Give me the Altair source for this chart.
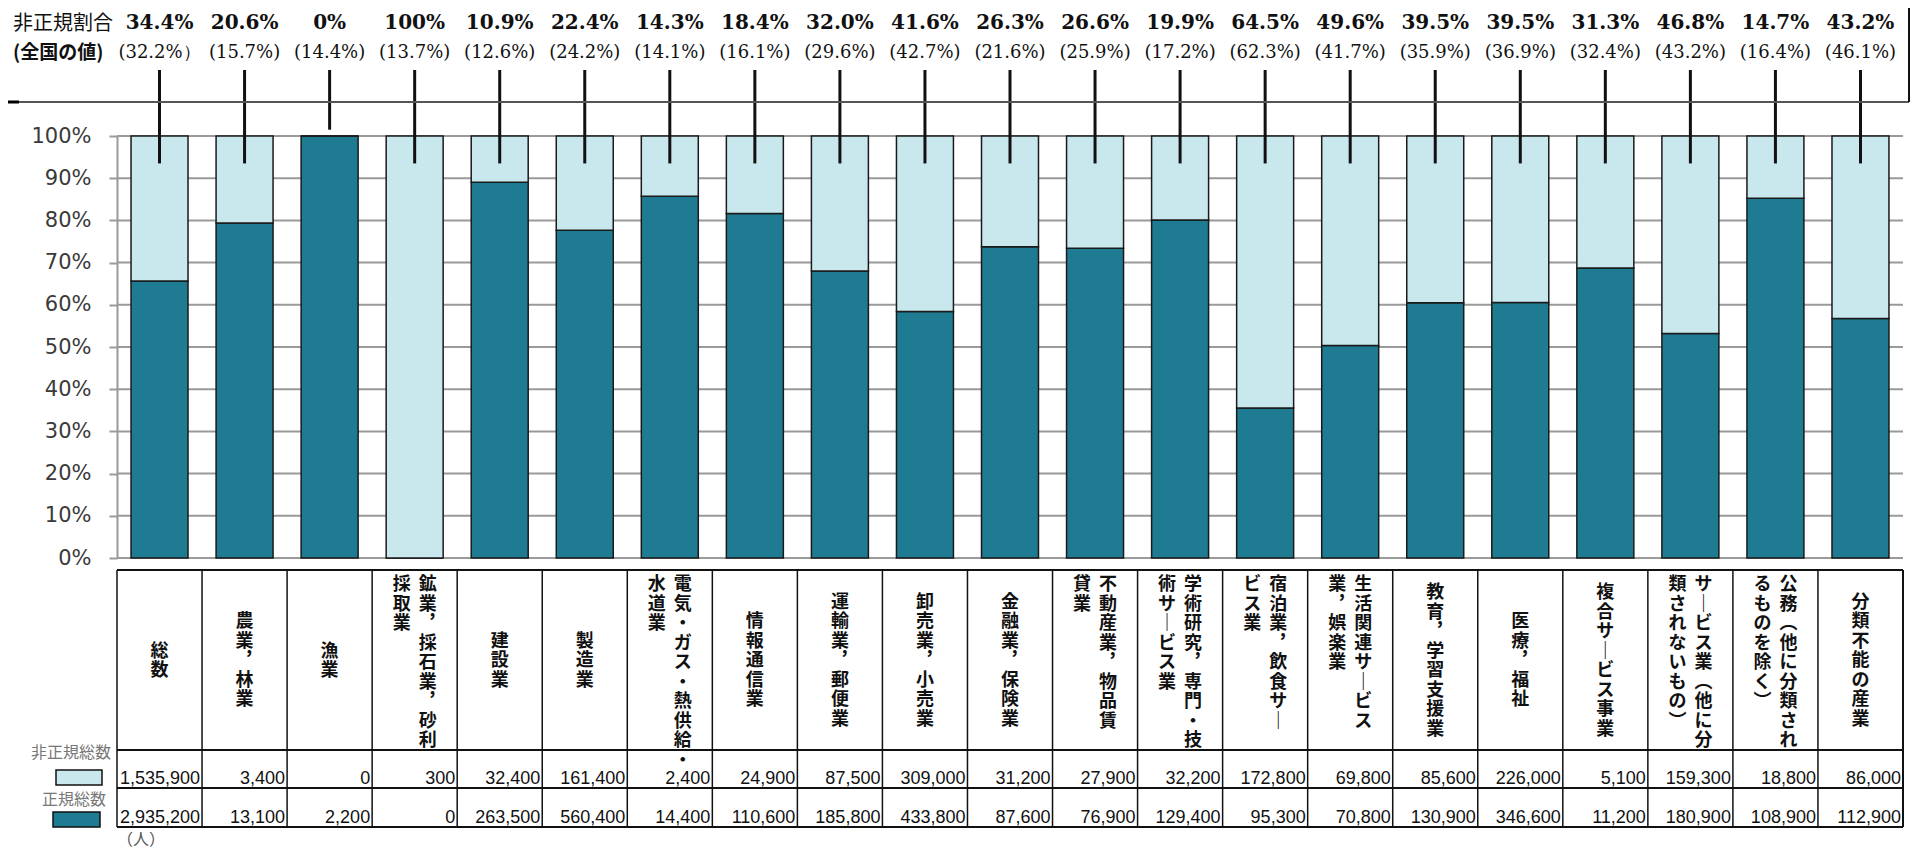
import altair as alt
import pandas as pd

# ---------------- data ----------------
categories = [
    "総数", "農業，林業", "漁業", "鉱業，採石業，砂利採取業", "建設業", "製造業",
    "電気・ガス・熱供給・水道業", "情報通信業", "運輸業，郵便業", "卸売業，小売業",
    "金融業，保険業", "不動産業，物品賃貸業", "学術研究，専門・技術サービス業",
    "宿泊業，飲食サービス業", "生活関連サービス業，娯楽業", "教育，学習支援業",
    "医療，福祉", "複合サービス事業", "サービス業（他に分類されないもの）",
    "公務（他に分類されるものを除く）", "分類不能の産業",
]
# header text split into vertical columns (right column first)
header_cols = [
    ["総数"], ["農業，林業"], ["漁業"], ["鉱業，採石業，砂利", "採取業"], ["建設業"], ["製造業"],
    ["電気・ガス・熱供給・", "水道業"], ["情報通信業"], ["運輸業，郵便業"], ["卸売業，小売業"],
    ["金融業，保険業"], ["不動産業，物品賃", "貸業"], ["学術研究，専門・技", "術サービス業"],
    ["宿泊業，飲食サー", "ビス業"], ["生活関連サービス", "業，娯楽業"], ["教育，学習支援業"],
    ["医療，福祉"], ["複合サービス事業"], ["サービス業（他に分", "類されないもの）"],
    ["公務（他に分類され", "るものを除く）"], ["分類不能の産業"],
]
nonregular = [1535900, 3400, 0, 300, 32400, 161400, 2400, 24900, 87500, 309000, 31200,
              27900, 32200, 172800, 69800, 85600, 226000, 5100, 159300, 18800, 86000]
regular = [2935200, 13100, 2200, 0, 263500, 560400, 14400, 110600, 185800, 433800, 87600,
           76900, 129400, 95300, 70800, 130900, 346600, 11200, 180900, 108900, 112900]
pct_labels = ["34.4%", "20.6%", "0%", "100%", "10.9%", "22.4%", "14.3%", "18.4%", "32.0%",
              "41.6%", "26.3%", "26.6%", "19.9%", "64.5%", "49.6%", "39.5%", "39.5%",
              "31.3%", "46.8%", "14.7%", "43.2%"]
national_labels = ["(32.2%）", "(15.7%)", "(14.4%)", "(13.7%)", "(12.6%)", "(24.2%)", "(14.1%)",
                   "(16.1%)", "(29.6%)", "(42.7%)", "(21.6%)", "(25.9%)", "(17.2%)", "(62.3%)",
                   "(41.7%)", "(35.9%)", "(36.9%)", "(32.4%)", "(43.2%)", "(16.4%)", "(46.1%)"]
y_ticks = [0, 0.1, 0.2, 0.3, 0.4, 0.5, 0.6, 0.7, 0.8, 0.9, 1.0]
series = ["正規", "非正規"]

# ---------------- style ----------------
W, H = 1786, 422
STEP = W / len(categories)
TEAL = "#1f7b91"
LIGHT = "#c9e8ee"
JP = "Noto Sans CJK JP"
LH = 19.5
GRID = "#9a9a9a"

df = pd.DataFrame({"cat": categories, "nonreg": nonregular, "reg": regular,
                   "pct": pct_labels, "nat": national_labels})
long = pd.concat([
    pd.DataFrame({"cat": categories, "type": series[0], "count": regular, "ord": 0}),
    pd.DataFrame({"cat": categories, "type": series[1], "count": nonregular, "ord": 1}),
])
ticks_df = pd.DataFrame({"t": y_ticks})

VERT = {"，": "︐", "ー": "｜", "（": "︵", "）": "︶"}
rows = []
for c, cols in zip(categories, header_cols):
    for i, s in enumerate(cols):
        rows.append({"cat": c, "col": i, "ncol": len(cols), "n": len(s),
                     "txt": "\n".join(VERT.get(ch, ch) for ch in s)})
head = pd.DataFrame(rows)
one = pd.DataFrame({"k": [0]})

X = alt.X("cat:N", scale=alt.Scale(domain=categories, paddingInner=0.33, paddingOuter=0.165),
          axis=None)
AX = alt.Axis(values=y_ticks, format=".0%", title=None, labelFont="DejaVu Sans",
              labelFontSize=21, labelColor="#3a3a3a", labelPadding=18,
              ticks=True, tickSize=8, tickColor=GRID, tickWidth=2,
              domain=True, domainColor=GRID, domainWidth=2, grid=False)
YS = alt.Scale(domain=[0, 1])

# horizontal gridlines drawn at the y tick values (behind the bars)
grid = alt.Chart(ticks_df).mark_rule(color=GRID, strokeWidth=2).encode(
    y=alt.Y("t:Q", scale=YS, axis=AX), x=alt.value(0), x2=alt.value(W))

bars = alt.Chart(long).mark_bar(stroke="#1a1a1a", strokeWidth=1.5).encode(
    x=X,
    y=alt.Y("count:Q", stack="normalize", scale=YS, axis=AX),
    color=alt.Color("type:N", scale=alt.Scale(domain=series, range=[TEAL, LIGHT]), legend=None),
    order=alt.Order("ord:Q"),
)

callouts = alt.Chart(df).transform_calculate(
    end="datum.nonreg > 0 ? 0.935 : 1.015"
).mark_rule(color="#111", strokeWidth=3).encode(
    x=X, y=alt.Y("end:Q", scale=YS, axis=AX), y2=alt.value(-66))

top1 = alt.Chart(df).mark_text(font="DejaVu Serif", fontWeight="bold", fontSize=20,
                               color="#111", baseline="middle").encode(
    x=X, y=alt.value(-113), text="pct:N")
top2 = alt.Chart(df).mark_text(font="DejaVu Serif", fontSize=18, color="#111",
                               baseline="middle").encode(
    x=X, y=alt.value(-83), text="nat:N")
lab1 = alt.Chart(one).mark_text(text="非正規割合", font=JP, fontSize=20, align="left",
                                baseline="middle", color="#111").encode(
    x=alt.value(-104), y=alt.value(-112))
lab2 = alt.Chart(one).mark_text(text="(全国の値)", font=JP, fontSize=19, fontWeight="bold",
                                align="left", baseline="middle", color="#111").encode(
    x=alt.value(-104), y=alt.value(-83))

hline = alt.Chart(one).mark_rule(color="#555", strokeWidth=2).encode(
    x=alt.value(-109), x2=alt.value(W + 6), y=alt.value(-34))
hline_left = alt.Chart(one).mark_rule(color="#000", strokeWidth=3).encode(
    x=alt.value(-109), x2=alt.value(-98), y=alt.value(-34))
vline_right = alt.Chart(one).mark_rule(color="#111", strokeWidth=2).encode(
    x=alt.value(W + 6), y=alt.value(-128), y2=alt.value(-34))


def hrule(y, w=2):
    return alt.Chart(one).mark_rule(color="#111", strokeWidth=w).encode(
        x=alt.value(0), x2=alt.value(W), y=alt.value(y))


T_TOP, T_HEAD, T_R1, T_R2 = 434, 614, 652, 691
table_h = [hrule(T_TOP), hrule(T_HEAD), hrule(T_R1), hrule(T_R2)]
col_sep = alt.Chart(df).mark_rule(xOffset=-STEP / 2, color="#111", strokeWidth=1.5).encode(
    x=X, y=alt.value(T_TOP), y2=alt.value(T_R2))
col_right = alt.Chart(one).mark_rule(color="#111", strokeWidth=2).encode(
    x=alt.value(W), y=alt.value(T_TOP), y2=alt.value(T_R2))

hstyle = dict(font=JP, fontSize=18, fontWeight="bold", lineHeight=LH, lineBreak="\n",
              color="#111", align="center", baseline="top")
# single-column headers: vertically centred in the header cell (one layer per text length)
HEAD_MID = (T_TOP + T_HEAD) / 2
head_layers = []
for n in sorted(head.loc[head.ncol == 1, "n"].unique()):
    head_layers.append(
        alt.Chart(head).transform_filter(f"datum.ncol == 1 && datum.n == {int(n)}")
        .mark_text(**hstyle).encode(x=X, y=alt.value(HEAD_MID - n * LH / 2 + 2), text="txt:N"))
head_layers.append(
    alt.Chart(head).transform_filter("datum.ncol == 2 && datum.col == 0").mark_text(
        dx=13, **hstyle).encode(x=X, y=alt.value(T_TOP + 6), text="txt:N"))
head_layers.append(
    alt.Chart(head).transform_filter("datum.ncol == 2 && datum.col == 1").mark_text(
        dx=-13, **hstyle).encode(x=X, y=alt.value(T_TOP + 6), text="txt:N"))

nstyle = dict(font="Liberation Sans", fontSize=18, color="#111", align="right",
              baseline="middle", dx=STEP / 2 - 2)
num1 = alt.Chart(df).mark_text(**nstyle).encode(
    x=X, y=alt.value(643), text=alt.Text("nonreg:Q", format=","))
num2 = alt.Chart(df).mark_text(**nstyle).encode(
    x=X, y=alt.value(682), text=alt.Text("reg:Q", format=","))

rl1 = alt.Chart(one).mark_text(text="非正規総数", font=JP, fontSize=16, color="#777",
                               align="right", baseline="middle").encode(
    x=alt.value(-6), y=alt.value(617))
rl2 = alt.Chart(one).mark_text(text="正規総数", font=JP, fontSize=16, color="#777",
                               align="right", baseline="middle").encode(
    x=alt.value(-11), y=alt.value(664))
box1 = alt.Chart(one).mark_rect(fill=LIGHT, stroke="#111", strokeWidth=1.5).encode(
    x=alt.value(-61), x2=alt.value(-15), y=alt.value(634), y2=alt.value(649))
box2 = alt.Chart(one).mark_rect(fill=TEAL, stroke="#111", strokeWidth=1.5).encode(
    x=alt.value(-64), x2=alt.value(-17), y=alt.value(676), y2=alt.value(691))
unit = alt.Chart(one).mark_text(text="（人）", font=JP, fontSize=16, color="#555",
                                align="left", baseline="middle").encode(
    x=alt.value(0), y=alt.value(704))

chart = alt.layer(
    grid, bars, callouts, top1, top2, lab1, lab2, hline, hline_left, vline_right,
    *table_h, col_sep, col_right, *head_layers, num1, num2,
    rl1, rl2, box1, box2, unit,
).properties(
    width=W, height=H,
    padding={"left": 109, "top": 128, "right": 14, "bottom": 292},
    autosize=alt.AutoSizeParams(type="none"),
).configure_view(stroke=None)

chart.save("out.html", embed_options={"renderer": "svg", "actions": False})
